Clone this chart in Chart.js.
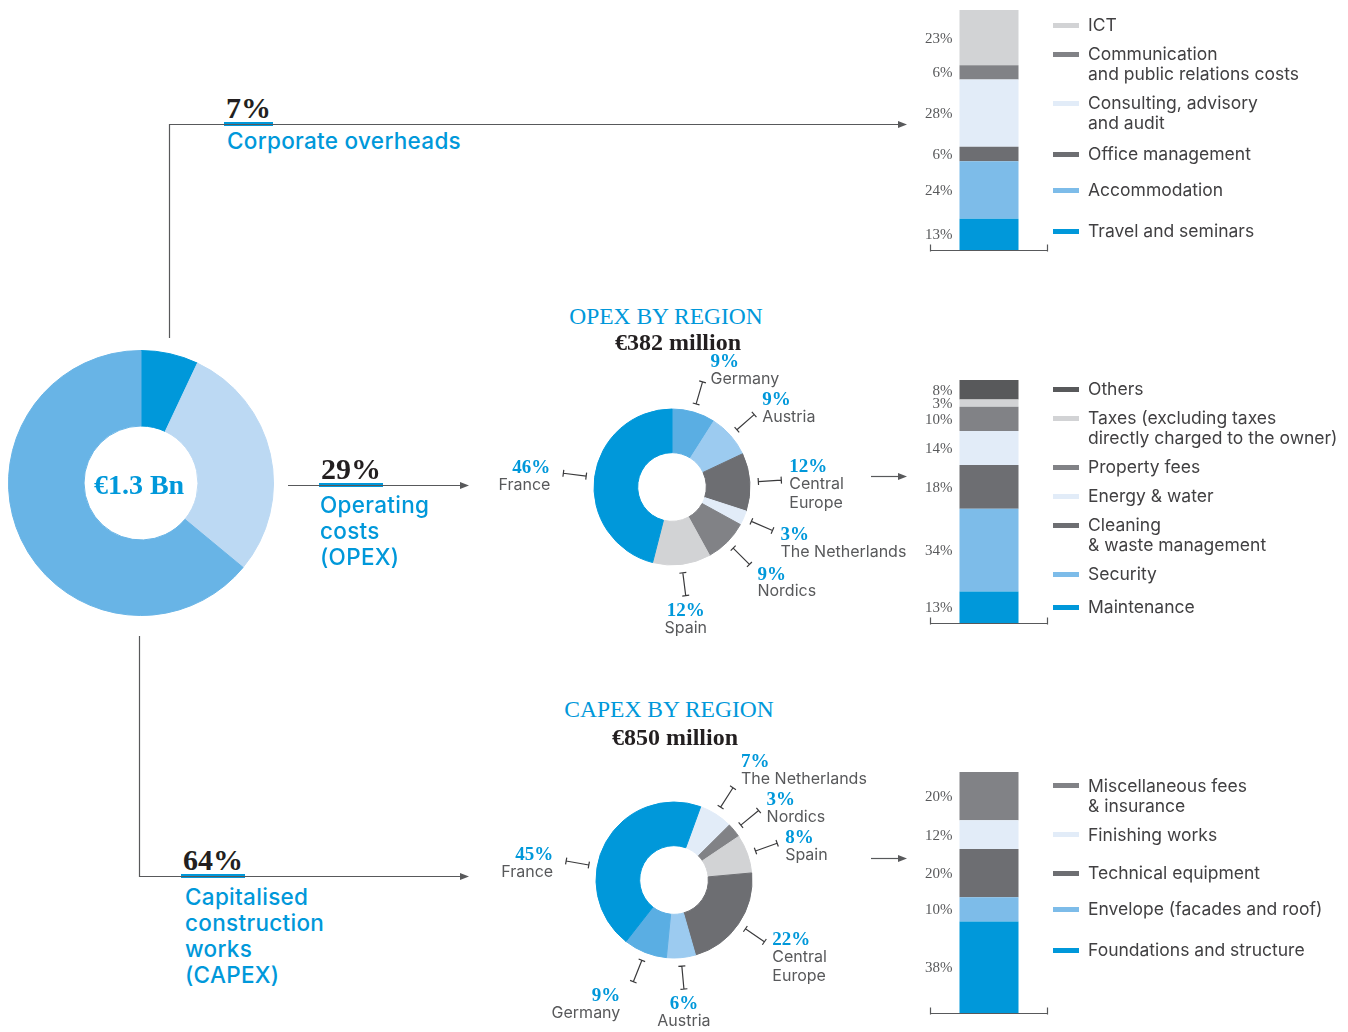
<!DOCTYPE html>
<html>
<head>
<meta charset="utf-8">
<script src="https://cdn.jsdelivr.net/npm/chart.js@4.4.1/dist/chart.umd.min.js"></script>
<style>
  body { margin: 0; background: #fff; }
  #page { position: relative; width: 1348px; height: 1032px; overflow: hidden; font-family: Inter, sans-serif; }
  canvas, .abs { position: absolute; }
  #links { position: absolute; left: 0; top: 0; pointer-events: none; }
  .big { font: bold 30px/28px "Liberation Serif", serif; color: #231f20; border-bottom: 4px solid #0098da; padding: 0 2px; }
  .head { font: 500 22.5px/26px Inter, sans-serif; letter-spacing: 0.3px; color: #0098da; white-space: pre-line; }
  .title { font: 23.5px/26px "Liberation Serif", serif; color: #0098da; text-align: center; width: 300px; }
  .sub { font: bold 24px/26px "Liberation Serif", serif; color: #231f20; text-align: center; width: 300px; }
  .centre { font: bold 28px/30px "Liberation Serif", serif; color: #0098da; text-align: center; width: 200px; }
  .lg { position: absolute; left: 1053px; font: 17.5px/20px Inter, sans-serif; color: #414042; white-space: pre-line; padding-left: 35px; }
  .lg i { position: absolute; left: 0; top: 7.5px; width: 26px; height: 5px; }
</style>
</head>
<body>
<div id="page">
  <canvas id="total" width="290" height="290" style="left:0px;top:340px"></canvas>
  <canvas id="opexRegion" width="450" height="300" style="left:470px;top:345px"></canvas>
  <canvas id="capexRegion" width="450" height="292" style="left:470px;top:740px"></canvas>
  <canvas id="overheadBar" width="145" height="262" style="left:915px;top:0px"></canvas>
  <canvas id="opexBar" width="145" height="265" style="left:915px;top:370px"></canvas>
  <canvas id="capexBar" width="145" height="264" style="left:915px;top:762px"></canvas>

  <div class="abs centre" style="left:39px;top:470px">€1.3 Bn</div>

  <div class="abs big" id="pct0" style="left:224px;top:94px"></div>
  <div class="abs head" id="head0" style="left:227px;top:128px"></div>
  <div class="abs big" id="pct1" style="left:319px;top:455px"></div>
  <div class="abs head" id="head1" style="left:320px;top:492px"></div>
  <div class="abs big" id="pct2" style="left:181px;top:846px"></div>
  <div class="abs head" id="head2" style="left:185px;top:884px"></div>

  <div class="abs title" style="left:516px;top:303px">OPEX BY REGION</div>
  <div class="abs sub" style="left:528px;top:329px">€382 million</div>
  <div class="abs title" style="left:519px;top:696px">CAPEX BY REGION</div>
  <div class="abs sub" style="left:525px;top:724px">€850 million</div>

  <svg id="links" width="1348" height="1032">
    <defs>
      <marker id="arr" markerUnits="userSpaceOnUse" markerWidth="9" markerHeight="8" refX="1" refY="4" orient="auto">
        <path d="M0,0.5 L9,4 L0,7.5 z" fill="#58595b"/>
      </marker>
    </defs>
    <g fill="none" stroke="#58595b" stroke-width="1.2" marker-end="url(#arr)">
      <path d="M169.5,338 V124.5 H899"/>
      <path d="M288,485.5 H461"/>
      <path d="M139.5,636 V876.5 H461"/>
      <path d="M871,476.5 H899"/>
      <path d="M871,858.5 H899"/>
    </g>
  </svg>
</div>

<script>
// split of the €1.3 Bn total
const totalLabels = ['Corporate overheads', 'Operating\ncosts\n(OPEX)', 'Capitalised\nconstruction\nworks\n(CAPEX)'];
const totalShares = [7, 29, 64];

// OPEX by region (clockwise from 12 o'clock)
const opexRegions = ['Germany', 'Austria', 'Central\nEurope', 'The Netherlands', 'Nordics', 'Spain', 'France'];
const opexRegionShares = [9, 9, 12, 3, 9, 12, 46];

// CAPEX by region (clockwise, starting after France)
const capexRegions = ['The Netherlands', 'Nordics', 'Spain', 'Central\nEurope', 'Austria', 'Germany', 'France'];
const capexRegionShares = [7, 3, 8, 22, 6, 9, 45];

// stacked bars, bottom segment first
const overheadItems = ['Travel and seminars', 'Accommodation', 'Office management', 'Consulting, advisory\nand audit', 'Communication\nand public relations costs', 'ICT'];
const overheadShares = [13, 24, 6, 28, 6, 23];

const opexItems = ['Maintenance', 'Security', 'Cleaning\n& waste management', 'Energy & water', 'Property fees', 'Taxes (excluding taxes\ndirectly charged to the owner)', 'Others'];
const opexItemShares = [13, 34, 18, 14, 10, 3, 8];

const capexItems = ['Foundations and structure', 'Envelope (facades and roof)', 'Technical equipment', 'Finishing works', 'Miscellaneous fees\n& insurance'];
const capexItemShares = [38, 10, 20, 12, 20];

// palette
const BLUE = '#0098da';
const MID_BLUE = '#5aaee3';
const SKY = '#7dbce9';
const PALE_BLUE = '#9ccbf0';
const ICE = '#e2ecf8';
const DARK = '#6d6e72';
const GREY = '#818286';
const LIGHT = '#d2d3d5';
const CHARCOAL = '#58595b';

const totalColors = [BLUE, '#bcd9f3', '#68b4e6'];
const opexRegionColors = [MID_BLUE, PALE_BLUE, DARK, ICE, GREY, LIGHT, BLUE];
const capexRegionColors = [ICE, GREY, LIGHT, DARK, PALE_BLUE, MID_BLUE, BLUE];
const overheadColors = [BLUE, SKY, DARK, ICE, GREY, LIGHT];
const opexItemColors = [BLUE, SKY, DARK, ICE, GREY, LIGHT, CHARCOAL];
const capexItemColors = [BLUE, SKY, DARK, ICE, GREY];

// header texts for the three branches
totalShares.forEach((v, i) => {
    document.getElementById('pct' + i).textContent = v + '%';
    document.getElementById('head' + i).textContent = totalLabels[i];
});

const PCT_STEP = 17;   // percent line -> first name line
const LINE_STEP = 19.5;

// leader line + label for every slice of a region donut
const leaderLabels = {
    id: 'leaderLabels',
    afterDatasetsDraw(chart) {
        const ctx = chart.ctx;
        const names = chart.data.labels;
        const values = chart.data.datasets[0].data;

        const items = chart.getDatasetMeta(0).data.map((arc, i) => {
            const p = arc.getProps(['x', 'y', 'startAngle', 'endAngle', 'outerRadius'], true);
            let a = (p.startAngle + p.endAngle) / 2;
            if (values[i] > 25) {
                // big slices: keep the leader close to horizontal
                const h = Math.cos(a) < 0 ? Math.PI : 0;
                const d = Math.atan2(Math.sin(a - h), Math.cos(a - h));
                const lim = 10 * Math.PI / 180;
                a = h + Math.max(-lim, Math.min(lim, d));
            }
            const cx = Math.cos(a), cy = Math.sin(a);
            const r1 = p.outerRadius + 8.5, r2 = p.outerRadius + 31.5;
            const lines = names[i].split('\n');
            const align = cx > 0.2 ? 'left' : cx < -0.2 ? 'right' : 'center';
            const x2 = p.x + cx * r2, y2 = p.y + cy * r2;
            const span = PCT_STEP + LINE_STEP * (lines.length - 1);
            return {
                i, cx, cy, lines, align,
                x1: p.x + cx * r1, y1: p.y + cy * r1, x2, y2,
                tx: x2 + (align === 'left' ? 8 : align === 'right' ? -13 : 0),
                ty: y2 + 6 + 18 * cy - span / 2,
                span
            };
        });

        // keep neighbouring labels on the same side from overlapping
        ['left', 'right'].forEach(side => {
            const group = items.filter(it => it.align === side).sort((a, b) => a.ty - b.ty);
            for (let pass = 0; pass < 10; pass++) {
                for (let k = 1; k < group.length; k++) {
                    const prevBottom = group[k - 1].ty + group[k - 1].span + 9;
                    const over = prevBottom + 2 - (group[k].ty - 10);
                    if (over > 0) {
                        group[k - 1].ty -= over / 2;
                        group[k].ty += over / 2;
                    }
                }
            }
        });

        ctx.save();
        items.forEach(it => {
            ctx.strokeStyle = '#3a3a3c';
            ctx.lineWidth = 1.2;
            ctx.beginPath();
            ctx.moveTo(it.x1, it.y1);
            ctx.lineTo(it.x2, it.y2);
            for (const [qx, qy] of [[it.x1, it.y1], [it.x2, it.y2]]) {
                ctx.moveTo(qx - it.cy * 3.5, qy + it.cx * 3.5);
                ctx.lineTo(qx + it.cy * 3.5, qy - it.cx * 3.5);
            }
            ctx.stroke();

            ctx.textAlign = it.align;
            ctx.textBaseline = 'middle';
            ctx.fillStyle = BLUE;
            ctx.font = 'bold 19px "Liberation Serif"';
            ctx.fillText(values[it.i] + '%', it.tx, it.ty);
            ctx.fillStyle = '#58595b';
            ctx.font = '16px Inter';
            it.lines.forEach((ln, k) => ctx.fillText(ln, it.tx, it.ty + PCT_STEP + LINE_STEP * k));
        });
        ctx.restore();
    }
};

// percentage next to each bar segment, plus the little base line
const barLabels = {
    id: 'barLabels',
    afterDatasetsDraw(chart) {
        const { ctx, chartArea } = chart;
        ctx.save();
        ctx.font = '15px "Liberation Serif"';
        ctx.fillStyle = '#58595b';
        ctx.textAlign = 'right';
        ctx.textBaseline = 'middle';
        chart.data.datasets.forEach((ds, i) => {
            const bar = chart.getDatasetMeta(i).data[0];
            const { x, y, base, width } = bar.getProps(['x', 'y', 'base', 'width'], true);
            ctx.fillText(ds.data[0] + '%', x - width / 2 - 7, (y + base) / 2 + 1);
        });
        const b = Math.round(chartArea.bottom) + 0.5;
        ctx.strokeStyle = '#58595b';
        ctx.lineWidth = 1.2;
        ctx.beginPath();
        ctx.moveTo(chartArea.left, b);
        ctx.lineTo(chartArea.right, b);
        ctx.moveTo(chartArea.left + 0.5, b + 1);
        ctx.lineTo(chartArea.left + 0.5, b - 6);
        ctx.moveTo(chartArea.right - 0.5, b + 1);
        ctx.lineTo(chartArea.right - 0.5, b - 6);
        ctx.stroke();
        ctx.restore();
    }
};

function donut(id, labels, values, colors, cutout, rotation, padding, plugins) {
    return new Chart(document.getElementById(id), {
        type: 'doughnut',
        data: {
            labels: labels,
            datasets: [{ data: values, backgroundColor: colors, borderColor: colors, borderWidth: 1 }]
        },
        options: {
            responsive: false,
            animation: false,
            events: [],
            cutout: cutout,
            rotation: rotation,
            layout: { padding: padding },
            plugins: { legend: { display: false }, tooltip: { enabled: false } }
        },
        plugins: plugins
    });
}

function stackedBar(id, items, values, colors, padding) {
    const chart = new Chart(document.getElementById(id), {
        type: 'bar',
        data: {
            labels: [''],
            datasets: items.map((name, i) => ({
                label: name,
                data: [values[i]],
                backgroundColor: colors[i],
                borderWidth: 0,
                barPercentage: 1,
                categoryPercentage: 0.5
            }))
        },
        options: {
            responsive: false,
            animation: false,
            events: [],
            layout: { padding: padding },
            scales: {
                x: { display: false, stacked: true },
                y: { display: false, stacked: true, min: 0, max: 100 }
            },
            plugins: { legend: { display: false }, tooltip: { enabled: false } }
        },
        plugins: [barLabels]
    });
    buildLegend(chart, items, colors);
    return chart;
}

// legend entries sit next to their segment, nudged apart so they never overlap
function buildLegend(chart, items, colors) {
    const page = document.getElementById('page');
    const offset = chart.canvas.offsetTop;
    const gap = 9, maxGap = 21;
    const boxes = [];
    for (let i = items.length - 1; i >= 0; i--) {
        const el = document.createElement('div');
        el.className = 'lg';
        const sw = document.createElement('i');
        sw.style.background = colors[i];
        el.appendChild(sw);
        el.appendChild(document.createTextNode(items[i]));
        page.appendChild(el);
        const bar = chart.getDatasetMeta(i).data[0];
        const h = el.offsetHeight;
        boxes.push({ el, h, top: offset + (bar.y + bar.base) / 2 - h / 2 });
    }
    for (let k = boxes.length - 2; k >= 0; k--) {
        boxes[k].top = Math.min(boxes[k].top, boxes[k + 1].top - gap - boxes[k].h);
    }
    let floor = offset + chart.chartArea.top - 1;
    boxes.forEach((b, k) => {
        b.top = Math.max(b.top, floor);
        if (k > 0) b.top = Math.min(b.top, floor - gap + maxGap);
        floor = b.top + b.h + gap;
        b.el.style.top = b.top + 'px';
    });
}

donut('total', totalLabels, totalShares, totalColors, '43%', 0,
    { left: 8, top: 10, right: 16, bottom: 14 }, []);
donut('opexRegion', opexRegions, opexRegionShares, opexRegionColors, '44%', 0,
    { left: 123.5, right: 169.5, top: 63.5, bottom: 79.5 }, [leaderLabels]);
donut('capexRegion', capexRegions, capexRegionShares, capexRegionColors, '44%', 20,
    { left: 125.5, right: 167.5, top: 61.5, bottom: 73.5 }, [leaderLabels]);

stackedBar('overheadBar', overheadItems, overheadShares, overheadColors, { left: 15, right: 12, top: 10, bottom: 12 });
stackedBar('opexBar', opexItems, opexItemShares, opexItemColors, { left: 15, right: 12, top: 10, bottom: 12 });
stackedBar('capexBar', capexItems, capexItemShares, capexItemColors, { left: 15, right: 12, top: 10, bottom: 13 });
</script>
</body>
</html>
